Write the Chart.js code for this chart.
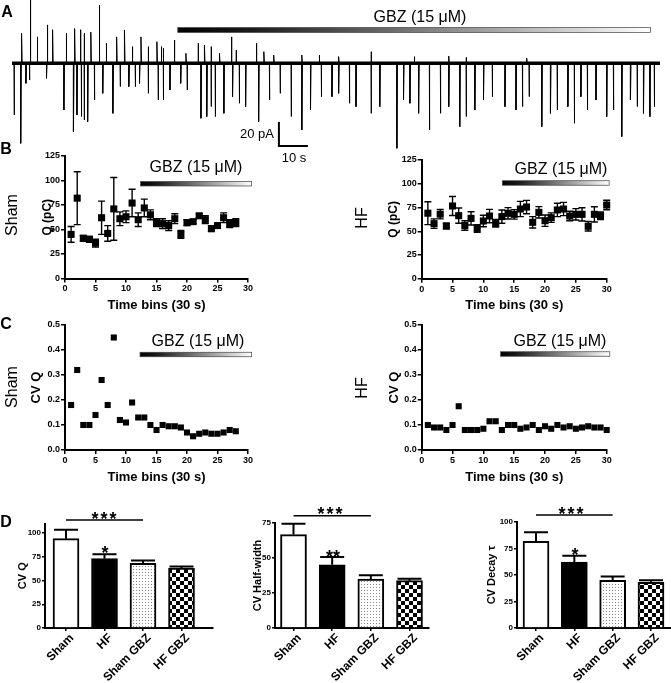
<!DOCTYPE html>
<html><head><meta charset="utf-8"><title>GBZ figure</title>
<script src="https://cdn.jsdelivr.net/npm/chart.js@4.4.1/dist/chart.umd.min.js"></script>
<style>
html,body{margin:0;padding:0;background:#fff}
#wrap{position:relative;width:671px;height:683px;overflow:hidden;font-family:"Liberation Sans",Arial,Helvetica,sans-serif;color:#000}
canvas{position:absolute}
.t{position:absolute;transform:translate(-50%,-50%);white-space:nowrap;line-height:1}
.r{transform:translate(-50%,-50%) rotate(-90deg)}
.L{font-size:16px;font-weight:bold}
.g{font-size:16px}
.row{font-size:16px}
.st{font-size:18px;font-weight:bold}
</style></head><body><div id="wrap">
<canvas id="cA" width="671" height="152" style="left:0;top:0"></canvas>
<canvas id="cB1" width="258" height="168" style="left:0;top:145px"></canvas>
<canvas id="cB2" width="237" height="168" style="left:380px;top:145px"></canvas>
<canvas id="cC1" width="258" height="175" style="left:0;top:310px"></canvas>
<canvas id="cC2" width="237" height="175" style="left:380px;top:310px"></canvas>
<canvas id="cD1" width="225" height="178" style="left:0;top:505px"></canvas>
<canvas id="cD2" width="215" height="178" style="left:225px;top:505px"></canvas>
<canvas id="cD3" width="231" height="178" style="left:440px;top:505px"></canvas>

<div class="t L" style="left:7px;top:12px">A</div>
<div class="t g" style="left:420px;top:17px">GBZ (15 μM)</div>
<div class="t" style="left:257px;top:133px;font-size:13px">20 pA</div>
<div class="t" style="left:294px;top:157px;font-size:13px">10 s</div>

<div class="t L" style="left:6px;top:149px">B</div>
<div class="t row r" style="left:12px;top:215px">Sham</div>
<div class="t row r" style="left:362px;top:218px">HF</div>
<div class="t g" style="left:196px;top:167px">GBZ (15 μM)</div>
<div class="t g" style="left:561px;top:169px">GBZ (15 μM)</div>

<div class="t L" style="left:6px;top:324px">C</div>
<div class="t row r" style="left:12px;top:387px">Sham</div>
<div class="t row r" style="left:362px;top:388px">HF</div>
<div class="t g" style="left:198px;top:341px">GBZ (15 μM)</div>
<div class="t g" style="left:560px;top:341px">GBZ (15 μM)</div>

<div class="t L" style="left:6px;top:522px">D</div>
<div class="t st" style="left:105px;top:519px;letter-spacing:2px">***</div>
<div class="t st" style="left:105px;top:553px">*</div>
<div class="t st" style="left:331px;top:514px;letter-spacing:2px">***</div>
<div class="t st" style="left:333px;top:557px">**</div>
<div class="t st" style="left:572px;top:514px;letter-spacing:2px">***</div>
<div class="t st" style="left:575px;top:555px">*</div>
</div>
<script>
// ---------------- DATA ----------------
// Panel A: recorded events (time in s, amplitude in pA)
const upTimes = [3.3, 6.3, 8.7, 12.2, 14.0, 18.7, 21.6, 23.6, 24.9, 27.2, 30.1, 32.5, 36.1, 38.8, 41.5, 44.5, 47.0, 50.0, 51.5, 52.2, 56.0, 60.0, 64.2, 66.4, 68.7, 71.6, 75.7, 77.3, 84.3, 86.9, 90.3, 100.0, 106.0, 112.7, 123.9, 138.8, 150.7, 156.7, 177.6];
const upAmps = [25, 52.8, 22, 32, 28, 25, 29, 28, 25, 26, 48.6, 16.7, 22, 27.8, 13.9, 22, 13.9, 18, 13.9, 12.5, 19.4, 8.3, 16.7, 15.3, 13.9, 8.3, 22, 11, 16.7, 9.7, 6.9, 6.9, 6.9, 5.6, 9.7, 5.6, 6.1, 5, 4.2];
const downTimes = [0.7, 3.0, 4.8, 6.0, 11.9, 17.9, 21.2, 22.4, 23.9, 24.9, 26.1, 28.4, 31.3, 34.8, 37.3, 40.3, 42.5, 44.0, 47.0, 50.4, 52.2, 54.5, 58.2, 60.4, 65.2, 67.2, 68.7, 70.1, 73.1, 76.1, 78.4, 80.6, 85.1, 88.8, 92.5, 96.3, 100.0, 103.0, 106.7, 110.4, 112.7, 116.4, 118.7, 123.9, 126.9, 132.8, 135.1, 137.3, 140.3, 144.0, 147.8, 150.7, 154.5, 156.7, 159.7, 162.7, 165.7, 170.1, 173.9, 176.1, 178.4, 182.8, 185.8, 188.1, 191.8, 194.0, 196.3, 198.5, 201.5, 205.2, 207.5, 210.4, 213.4, 215.7, 217.9, 220.1, 221.6];
const downAmps = [-43, -66.7, -16.7, -13.9, -12.5, -38.9, -56.9, -43, -44.4, -47.2, -48.6, -30.6, -25, -41.7, -19.4, -19.4, -19.4, -16.7, -25, -30.6, -30.6, -22.2, -16.7, -22.2, -45.8, -44.4, -36.1, -44.4, -41.7, -27.8, -33.3, -36.1, -48.6, -30.6, -25, -44.4, -55.6, -38.9, -27.8, -27.8, -25, -33.3, -36.1, -41.7, -36.1, -70.8, -30.6, -33.3, -41.7, -55.6, -41.7, -36.1, -52.8, -44.4, -38.9, -30.6, -27.8, -36.1, -38.9, -36.1, -27.8, -52.8, -41.7, -38.9, -36.1, -50, -27.8, -38.9, -30.6, -44.4, -38.9, -61.1, -30.6, -36.1, -41.7, -44.4, -36.1];
const traceStart = 0, traceEnd = 223.6;
const gbzTraceStart = 57.2, gbzTraceEnd = 220.3;
const scaleBarT = 92.1, scaleBarA = -68.9, scaleBarSec = 10, scaleBarPA = 20;

// Panel B: Q (pC) per 30 s bin
const shamBins = [1,2,3,4,5,6,7,8,9,10,11,12,13,14,15,16,17,18,19,20,21,22,23,24,25,26,27,28];
const shamQ    = [45, 82, 41, 40, 36, 62, 46, 71, 61, 63, 77, 60, 72, 65, 57, 56, 54, 61, 45, 57, 58, 64, 60, 51, 54, 62, 56, 57];
const shamQsem = [8, 27, 3, 3, 4, 17, 8, 32, 7, 6, 14, 7, 9, 5, 4, 5, 5, 5, 4, 3, 2, 2, 4, 3, 2, 5, 4, 4];
const hfBins = [1,2,3,4,5,6,7,8,9,10,11,12,13,14,15,16,17,18,19,20,21,22,23,24,25,26,27,28,29,30];
const hfQ    = [69, 58, 68, 55.5, 76.6, 66.4, 56, 63.6, 53, 60.8, 66, 58.3, 65.4, 68.9, 67.8, 73.4, 75.5, 59.4, 69.9, 61.1, 64.3, 72.4, 73.4, 66, 67.8, 67.8, 55.2, 67.8, 66.4, 77.6];
const hfQsem = [12, 5, 5, 3, 10, 8, 5, 7, 4, 6, 7, 4, 7, 6, 5, 8, 7, 6, 6, 6, 5, 7, 7, 5, 6, 7, 5, 8, 4, 5];

// Panel C: CV of Q per bin
const shamCV = [0.18, 0.32, 0.10, 0.10, 0.14, 0.28, 0.18, 0.45, 0.12, 0.11, 0.19, 0.13, 0.13, 0.10, 0.08, 0.10, 0.095, 0.095, 0.09, 0.07, 0.055, 0.065, 0.07, 0.065, 0.065, 0.07, 0.08, 0.075];
const hfCV = [0.10, 0.09, 0.09, 0.08, 0.10, 0.175, 0.08, 0.08, 0.08, 0.085, 0.115, 0.115, 0.08, 0.10, 0.10, 0.085, 0.09, 0.10, 0.08, 0.095, 0.085, 0.10, 0.09, 0.095, 0.085, 0.09, 0.095, 0.09, 0.09, 0.08];

// GBZ bar annotation (bins, level)
const gbzB1 = [12.4, 30.6, 96.7], gbzB2 = [13.07, 30.4, 100.8];
const gbzC1 = [12.3, 30.6, 0.382], gbzC2 = [12.8, 30.5, 0.384];

// Panel D
const groups = ['Sham', 'HF', 'Sham GBZ', 'HF GBZ'];
const cvQMean = [94, 73, 68, 63];
const cvQSem  = [9.5, 4.6, 3, 1.8];
const cvHWMean = [66.7, 45.2, 35, 33.8];
const cvHWSem  = [7.8, 5.5, 2.6, 1.4];
const cvDecayMean = [81.8, 62.3, 45, 43.1];
const cvDecaySem  = [8.5, 5.9, 3.7, 1.9];
const sigLevels = [113.7, 80.2, 106.6];
const qTicks = [0, 25, 50, 75, 100, 125];
const dTicksQ = [0, 25, 50, 75, 100];
const dTicksHW = [0, 25, 50, 75];
const dTicksDecay = [0, 25, 50, 75, 100];

// ---------------- HELPERS ----------------
const FONT = '"Liberation Sans", Arial, Helvetica, sans-serif';
Chart.defaults.font.family = FONT;
Chart.defaults.color = '#000';
const fixW = w => s => { s.width = w; };
const fixH = h => s => { s.height = h; };
const base = (pad) => ({
  responsive: false, animation: false, events: [],
  layout: { padding: pad, autoPadding: false },
  plugins: { legend: { display: false }, tooltip: { enabled: false } }
});
function axisX(opt) {
  return Object.assign({
    type: 'linear', offset: false,
    grid: { display: true, drawOnChartArea: false, drawTicks: true, tickLength: opt.tl || 4, color: '#000', lineWidth: 1.5, offset: false },
    border: { display: true, color: '#000', width: 2 },
    ticks: { font: { size: opt.fs || 9, weight: 'bold' }, padding: 1, autoSkip: false, maxRotation: opt.rot || 0, minRotation: opt.rot || 0, color: '#000' },
    title: opt.title ? { display: true, text: opt.title, font: { size: 13, weight: 'bold' }, padding: 0, color: '#000' } : { display: false }
  }, opt.extra || {});
}
function axisY(opt) {
  return Object.assign({
    type: 'linear',
    grid: { display: true, drawOnChartArea: false, drawTicks: true, tickLength: opt.tl || 4, color: '#000', lineWidth: 1.5 },
    border: { display: true, color: '#000', width: 2 },
    ticks: { font: { size: opt.fs || 9, weight: 'bold' }, padding: 1, autoSkip: false, color: '#000' },
    title: { display: true, text: opt.title, font: { size: opt.tfs, weight: 'bold' }, padding: 0, color: '#000' }
  }, opt.extra || {});
}
function gbzPlugin(spec, thick) {
  return { id: 'gbz', afterDatasetsDraw(chart) {
    const { ctx, scales: { x, y } } = chart;
    const x0 = x.getPixelForValue(spec[0]), x1 = x.getPixelForValue(spec[1]), yc = y.getPixelForValue(spec[2]);
    ctx.save();
    const g = ctx.createLinearGradient(x0, 0, x1, 0);
    g.addColorStop(0, '#000'); g.addColorStop(0.15, '#1a1a1a'); g.addColorStop(1, '#fff');
    ctx.fillStyle = g; ctx.fillRect(x0, yc - thick / 2, x1 - x0, thick);
    ctx.strokeStyle = '#444'; ctx.lineWidth = 0.7; ctx.strokeRect(x0, yc - thick / 2, x1 - x0, thick);
    ctx.restore();
  } };
}
function errPlugin(bins, means, sems, cap) {
  return { id: 'err', beforeDatasetsDraw(chart) {
    const { ctx, scales: { x, y } } = chart;
    ctx.save(); ctx.strokeStyle = '#000'; ctx.lineWidth = 1.4; ctx.beginPath();
    bins.forEach((b, i) => {
      const px = x.getPixelForValue(b), t = y.getPixelForValue(means[i] + sems[i]), bo = y.getPixelForValue(means[i] - sems[i]);
      ctx.moveTo(px, t); ctx.lineTo(px, bo);
      ctx.moveTo(px - cap, t); ctx.lineTo(px + cap, t);
      ctx.moveTo(px - cap, bo); ctx.lineTo(px + cap, bo);
    });
    ctx.stroke(); ctx.restore();
  } };
}
function barErrPlugin(means, sems, sig) {
  return { id: 'berr', afterDatasetsDraw(chart) {
    const { ctx, scales: { x, y } } = chart;
    ctx.save(); ctx.strokeStyle = '#000'; ctx.lineWidth = 2; ctx.beginPath();
    means.forEach((m, i) => {
      const px = x.getPixelForValue(i + 1), a = y.getPixelForValue(m), b = y.getPixelForValue(m + sems[i]);
      ctx.moveTo(px, a); ctx.lineTo(px, b); ctx.moveTo(px - 12, b); ctx.lineTo(px + 12, b);
    });
    ctx.stroke();
    ctx.lineWidth = 1.5; ctx.beginPath();
    const ys = y.getPixelForValue(sig);
    ctx.moveTo(x.getPixelForValue(1), ys); ctx.lineTo(x.getPixelForValue(3), ys); ctx.stroke();
    ctx.restore();
  } };
}

// ---------------- PANEL A ----------------
const events = upTimes.map((t, i) => [t, upAmps[i]]).concat(downTimes.map((t, i) => [t, downAmps[i]])).sort((a, b) => a[0] - b[0]);
const tracePts = [];
events.forEach(e => { tracePts.push({ x: e[0], y: 0 }, { x: e[0], y: e[1] }, { x: e[0] + 0.2, y: 0 }); });
new Chart(document.getElementById('cA'), {
  type: 'line',
  data: { datasets: [
    { data: [{ x: traceStart, y: 0 }, { x: traceEnd, y: 0 }], borderColor: '#000', borderWidth: 3.5, pointRadius: 0, clip: false },
    { data: tracePts, borderColor: '#000', borderWidth: 1, pointRadius: 0, tension: 0, clip: false }
  ] },
  options: Object.assign(base({ left: 12, right: 11, top: 0, bottom: 2 }), {
    scales: { x: { type: 'linear', display: false, min: traceStart, max: traceEnd }, y: { type: 'linear', display: false, min: -72.25, max: 52.75 } }
  }),
  plugins: [gbzPlugin([gbzTraceStart, gbzTraceEnd, 27.75], 5), { id: 'sb', afterDatasetsDraw(chart) {
    const { ctx, scales: { x, y } } = chart;
    const x0 = x.getPixelForValue(scaleBarT), x1 = x.getPixelForValue(scaleBarT + scaleBarSec);
    const y0 = y.getPixelForValue(scaleBarA), y1 = y.getPixelForValue(scaleBarA + scaleBarPA);
    ctx.save(); ctx.strokeStyle = '#000'; ctx.lineWidth = 2; ctx.beginPath();
    ctx.moveTo(x0, y1); ctx.lineTo(x0, y0); ctx.lineTo(x1, y0); ctx.stroke(); ctx.restore();
  } }]
});

// ---------------- PANEL B ----------------
function qChart(id, bins, means, sems, gbz, pad, wY, hX) {
  new Chart(document.getElementById(id), {
    type: 'scatter',
    data: { datasets: [{ data: bins.map((b, i) => ({ x: b, y: means[i] })), pointStyle: 'rect', pointRadius: 5, pointBackgroundColor: '#000', pointBorderWidth: 0, showLine: false, clip: false }] },
    options: Object.assign(base(pad), {
      scales: {
        x: axisX({ title: 'Time bins (30 s)', extra: { min: 0, max: 30, afterFit: fixH(hX), ticks: { stepSize: 5, font: { size: 9, weight: 'bold' }, padding: 1, autoSkip: false, maxRotation: 0, color: '#000' } } }),
        y: axisY({ title: 'Q (pC)', tfs: 12, extra: { min: 0, max: 125, afterFit: fixW(wY), afterBuildTicks: s => { s.ticks = qTicks.map(v => ({ value: v })); } } })
      }
    }),
    plugins: [errPlugin(bins, means, sems, 3.5), gbzPlugin(gbz, 4.5)]
  });
}
qChart('cB1', shamBins, shamQ, shamQsem, gbzB1, { left: 40.2, top: 11, right: 10, bottom: 0 }, 24.8, 34.5);
qChart('cB2', hfBins, hfQ, hfQsem, gbzB2, { left: 6.8, top: 15, right: 10.3, bottom: 0 }, 34.9, 34.25);

// ---------------- PANEL C ----------------
function cvChart(id, bins, vals, gbz, pad, wY, hX) {
  new Chart(document.getElementById(id), {
    type: 'scatter',
    data: { datasets: [{ data: bins.map((b, i) => ({ x: b, y: vals[i] })), pointStyle: 'rect', pointRadius: 4.3, pointBackgroundColor: '#000', pointBorderWidth: 0, showLine: false, clip: false }] },
    options: Object.assign(base(pad), {
      scales: {
        x: axisX({ title: 'Time bins (30 s)', extra: { min: 0, max: 30, afterFit: fixH(hX), ticks: { stepSize: 5, font: { size: 9, weight: 'bold' }, padding: 1, autoSkip: false, maxRotation: 0, color: '#000' } } }),
        y: axisY({ title: 'CV Q', tfs: 13, extra: { min: 0, max: 0.5, afterFit: fixW(wY), ticks: { stepSize: 0.1, font: { size: 9, weight: 'bold' }, padding: 1, color: '#000', callback: v => v.toFixed(1) } } })
      }
    }),
    plugins: [gbzPlugin(gbz, 4.5)]
  });
}
cvChart('cC1', shamBins, shamCV, gbzC1, { left: 28.2, top: 15, right: 10, bottom: 0 }, 36.8, 35);
cvChart('cC2', hfBins, hfCV, gbzC2, { left: 6.2, top: 15, right: 10.3, bottom: 0 }, 35.5, 35);

// ---------------- PANEL D ----------------
function pattern(kind) {
  const c = document.createElement('canvas');
  const g = c.getContext('2d');
  if (kind === 'dots') {
    c.width = 3; c.height = 3; g.fillStyle = '#fff'; g.fillRect(0, 0, 3, 3);
    g.fillStyle = '#8a8a8a'; g.fillRect(1, 1, 1, 1);
  } else {
    c.width = 8; c.height = 8; g.fillStyle = '#fff'; g.fillRect(0, 0, 8, 8);
    g.fillStyle = '#000'; g.fillRect(0, 0, 4, 4); g.fillRect(4, 4, 4, 4);
  }
  return g.createPattern(c, 'repeat');
}
const fills = ['#ffffff', '#000000', pattern('dots'), pattern('checker')];
function barChart(id, means, sems, sig, yMax, yTicks, title, xMin, xMax, pad, wY) {
  new Chart(document.getElementById(id), {
    type: 'bar',
    data: { datasets: [{ data: means.map((m, i) => ({ x: i + 1, y: m })), backgroundColor: fills, borderColor: '#000', borderWidth: 2, barThickness: 26, borderSkipped: 'start' }] },
    options: Object.assign(base(pad), {
      scales: {
        x: axisX({ tl: 3, fs: 12, rot: 45, extra: { min: xMin, max: xMax, afterFit: fixH(55),
          afterBuildTicks: s => { s.ticks = groups.map((g, i) => ({ value: i + 1 })); },
          ticks: { font: { size: 12, weight: 'bold' }, padding: 0, autoSkip: false, maxRotation: 45, minRotation: 45, labelOffset: 6, color: '#000', callback: v => groups[v - 1] } } }),
        y: axisY({ tl: 3, fs: 8, title: title, tfs: 11, extra: { min: 0, max: yMax, afterFit: fixW(wY), afterBuildTicks: s => { s.ticks = yTicks.map(v => ({ value: v })); } } })
      }
    }),
    plugins: [barErrPlugin(means, sems, sig)]
  });
}
barChart('cD1', cvQMean, cvQSem, sigLevels[0], 110, dTicksQ, 'CV Q', 0.4545, 4.818, { left: 16.4, top: 18.5, right: 12, bottom: 0 }, 28.6);
barChart('cD2', cvHWMean, cvHWSem, sigLevels[1], 75, dTicksHW, 'CV Half-width', 0.5216, 4.486, { left: 26.4, top: 18, right: 11.7, bottom: 0 }, 23.6);
barChart('cD3', cvDecayMean, cvDecaySem, sigLevels[2], 100, dTicksDecay, 'CV Decay τ', 0.504, 4.522, { left: 45.4, top: 17, right: 0, bottom: 0 }, 31.6);
</script>
</body></html>
